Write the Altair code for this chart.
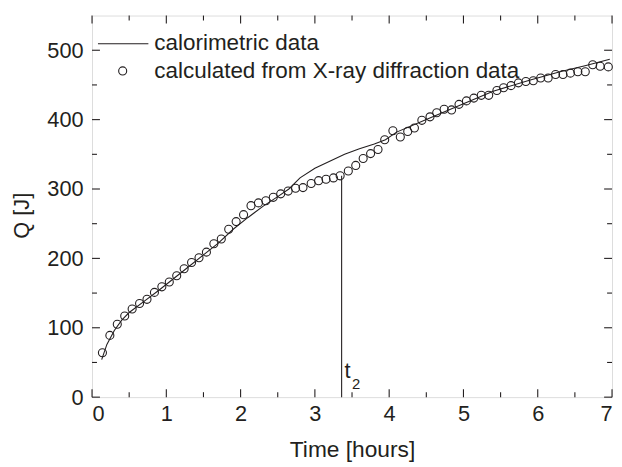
import altair as alt
import pandas as pd

# ---- data ----
cal_t = [0.13, 0.2, 0.3, 0.4, 0.5, 0.7, 0.9, 1.1, 1.3, 1.5, 1.7, 1.9, 2.1, 2.3, 2.5,
         2.65, 2.8, 3.0, 3.2, 3.4, 3.6, 3.8, 3.95, 4.1, 4.5, 5.0, 5.4, 5.9, 6.3, 6.65, 6.97]
cal_q = [54, 76, 96, 111, 122, 138, 154, 171, 188, 205, 222, 242, 259, 275, 289,
         300, 316, 330, 340, 350, 358, 365, 371, 382, 400, 423, 441, 457, 469, 478, 487]

xrd_t = [0.14, 0.24, 0.34, 0.44, 0.54, 0.64, 0.74, 0.84, 0.94, 1.04, 1.14, 1.24, 1.34,
         1.44, 1.54, 1.64, 1.74, 1.84, 1.94, 2.04, 2.14, 2.24, 2.34, 2.44, 2.54, 2.64,
         2.74, 2.84, 2.95, 3.05, 3.15, 3.25, 3.34, 3.45, 3.55, 3.65, 3.75, 3.85, 3.94,
         4.05, 4.15, 4.25, 4.34, 4.44, 4.55, 4.64, 4.74, 4.84, 4.94, 5.04, 5.14, 5.24,
         5.34, 5.45, 5.54, 5.64, 5.74, 5.84, 5.94, 6.04, 6.14, 6.24, 6.34, 6.44, 6.54,
         6.64, 6.74, 6.84, 6.95]
xrd_q = [64, 89, 105, 117, 127, 135, 141, 151, 159, 166, 175, 185, 194, 201, 209, 221,
         228, 242, 253, 263, 276, 280, 283, 288, 293, 297, 301, 302, 308, 312, 314, 316,
         319, 326, 334, 344, 351, 357, 371, 384, 375, 383, 388, 399, 404, 410, 415, 414,
         422, 427, 431, 435, 435, 442, 446, 449, 453, 455, 456, 460, 460, 465, 465, 467,
         469, 469, 479, 477, 476]

t2_time = [3.36]
t2_q = [319]

legend_labels = ["calorimetric data", "calculated from X-ray diffraction data"]

x_major = [0, 1, 2, 3, 4, 5, 6, 7]
x_minor = [0.5, 1.5, 2.5, 3.5, 4.5, 5.5, 6.5]
y_major = [0, 100, 200, 300, 400, 500]
y_minor = [50, 150, 250, 350, 450]

W, H = 526, 386
INK = "#231f20"
FONT = "Liberation Sans"

xs = alt.Scale(domain=[0, 7], nice=False, zero=False)
ys = alt.Scale(domain=[0, 550], nice=False)

cal = pd.DataFrame({"t": cal_t, "q": cal_q})
xrd = pd.DataFrame({"t": xrd_t, "q": xrd_q})
t2 = pd.DataFrame({"t": t2_time, "q": t2_q, "zero": [0]})

xaxis = alt.Axis(values=x_major, format="d", ticks=False, tickSize=0, domain=False, grid=False,
                 labelFontSize=22, labelPadding=7, labelColor=INK, labelFont=FONT,
                 title="Time [hours]", titleFontSize=23, titleFont=FONT, titleColor=INK,
                 titleFontWeight="normal", titleY=53, titleBaseline="middle")
yaxis = alt.Axis(values=y_major, format="d", ticks=False, tickSize=0, domain=False, grid=False,
                 labelFontSize=22, labelPadding=9, labelColor=INK, labelFont=FONT,
                 title="Q [J]", titleFontSize=22, titleFont=FONT, titleColor=INK,
                 titleFontWeight="normal", titleX=-71, titleY=202, titleBaseline="middle",
                 titleAngle=-90, titleAlign="center")

line = alt.Chart(cal).mark_line(color=INK, strokeWidth=1.1).encode(
    x=alt.X("t:Q", scale=xs, axis=xaxis),
    y=alt.Y("q:Q", scale=ys, axis=yaxis),
)

pts = alt.Chart(xrd).mark_point(shape="circle", filled=False, color=INK, size=66,
                                strokeWidth=1.1, opacity=1).encode(
    x=alt.X("t:Q", scale=xs),
    y=alt.Y("q:Q", scale=ys),
)

vrule = alt.Chart(t2).mark_rule(color=INK, strokeWidth=1.1).encode(
    x=alt.X("t:Q", scale=xs),
    y=alt.Y("zero:Q", scale=ys),
    y2="q:Q",
)

t_lbl = alt.Chart(t2).mark_text(text="t", font=FONT, fontSize=22, color=INK,
                                align="left", baseline="alphabetic", dx=3).encode(
    x=alt.X("t:Q", scale=xs), y=alt.value(367))
t_sub = alt.Chart(t2).mark_text(text="2", font=FONT, fontSize=15, color=INK,
                                align="left", baseline="alphabetic", dx=10.5).encode(
    x=alt.X("t:Q", scale=xs), y=alt.value(378))

# ticks pointing inward on all four sides
def xticks(vals, length):
    d = pd.DataFrame({"v": vals})
    b = alt.Chart(d).mark_rule(color=INK, strokeWidth=1.1).encode(
        x=alt.X("v:Q", scale=xs), y=alt.value(H), y2=alt.value(H - length))
    t = alt.Chart(d).mark_rule(color=INK, strokeWidth=1.1).encode(
        x=alt.X("v:Q", scale=xs), y=alt.value(0), y2=alt.value(length))
    return b + t

def yticks(vals, length):
    d = pd.DataFrame({"v": vals})
    l = alt.Chart(d).mark_rule(color=INK, strokeWidth=1.1).encode(
        y=alt.Y("v:Q", scale=ys), x=alt.value(0), x2=alt.value(length))
    r = alt.Chart(d).mark_rule(color=INK, strokeWidth=1.1).encode(
        y=alt.Y("v:Q", scale=ys), x=alt.value(W), x2=alt.value(W - length))
    return l + r

ticks = xticks(x_major, 8) + xticks(x_minor, 5) + yticks(y_major, 8) + yticks(y_minor, 5)

# legend
leg = pd.DataFrame({"label": legend_labels})
leg_line = alt.Chart(leg.iloc[[0]]).mark_rule(color=INK, strokeWidth=1.1).encode(
    x=alt.value(6), x2=alt.value(57), y=alt.value(28.5))
leg_pt = alt.Chart(leg.iloc[[1]]).mark_point(shape="circle", filled=False, color=INK,
                                             size=66, strokeWidth=1.1, opacity=1).encode(
    x=alt.value(31), y=alt.value(56))
leg_txt1 = alt.Chart(leg.iloc[[0]]).mark_text(font=FONT, fontSize=22.7, color=INK,
                                              align="left", baseline="alphabetic").encode(
    text="label:N", x=alt.value(63), y=alt.value(35))
leg_txt2 = alt.Chart(leg.iloc[[1]]).mark_text(font=FONT, fontSize=22.7, color=INK,
                                              align="left", baseline="alphabetic").encode(
    text="label:N", x=alt.value(63), y=alt.value(63))

chart = alt.layer(line, pts, vrule, t_lbl, t_sub, ticks, leg_line, leg_pt,
                  leg_txt1, leg_txt2).properties(
    width=W, height=H,
    autosize=alt.AutoSizeParams(type="none"),
    padding={"left": 85, "top": 5, "right": 2, "bottom": 66},
).configure_view(stroke=INK, strokeWidth=1.3).configure(background="white")

chart.save("out.html", embed_options={"renderer": "svg", "actions": False})
